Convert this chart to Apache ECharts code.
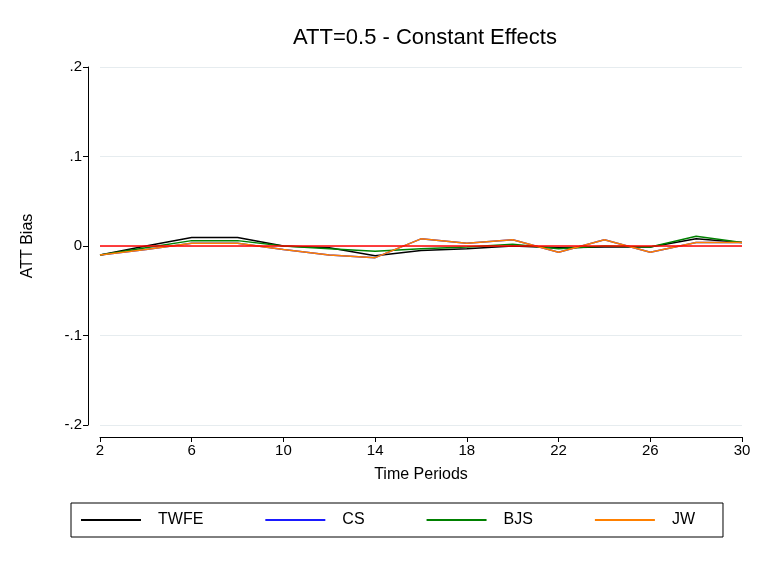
<!DOCTYPE html>
<html>
<head>
<meta charset="utf-8">
<script src="https://cdn.jsdelivr.net/npm/echarts@6/dist/echarts.min.js"></script>
<style>html,body{margin:0;padding:0;background:#fff}#chart{width:776px;height:564px}</style>
</head>
<body>
<div id="chart"></div>
<script>
var periods = [2, 4, 6, 8, 10, 12, 14, 16, 18, 20, 22, 24, 26, 28, 30];
var twfe = [-0.010, 0.000, 0.0095, 0.0095, 0.000, -0.002, -0.011, -0.005, -0.003, 0.000, -0.002, -0.001, -0.001, 0.008, 0.004];
var cs   = [-0.010, -0.004, 0.003, 0.003, -0.004, -0.010, -0.013, 0.008, 0.003, 0.007, -0.007, 0.007, -0.007, 0.004, 0.004];
var bjs  = [-0.010, -0.002, 0.006, 0.006, 0.000, -0.003, -0.006, -0.003, -0.001, 0.002, -0.003, 0.000, -0.001, 0.011, 0.004];
var jw   = [-0.010, -0.004, 0.003, 0.003, -0.004, -0.010, -0.013, 0.008, 0.003, 0.007, -0.007, 0.007, -0.007, 0.004, 0.004];
var yTicks = ['-.2', '-.1', '0', '.1', '.2'];

function pairs(v) {
    return periods.map(function (p, i) { return [p, v[i]]; });
}

window.onload = function () {
    var myChart = echarts.init(document.getElementById('chart'));
    var font = 'Liberation Sans, Arial, sans-serif';
    function line(name, color, vals, extra) {
        var s = {
            name: name, type: 'line', data: pairs(vals), symbol: 'none',
            lineStyle: { color: color, width: 1.5 }, itemStyle: { color: color },
            animation: false
        };
        if (extra) s.markLine = extra;
        return s;
    }
    var option = {
        backgroundColor: '#fff',
        title: {
            text: 'ATT=0.5 - Constant Effects', left: 420, top: 22, textAlign: 'center',
            textStyle: { fontFamily: font, fontWeight: 'normal', fontSize: 22, color: '#000' }
        },
        grid: { left: 100, right: 34, top: 67, bottom: 139 },
        legend: {
            bottom: 27, left: 'center', itemWidth: 60, itemGap: 62,
            borderColor: '#000', borderWidth: 1, padding: [9, 28, 9, 10],
            textStyle: { fontFamily: font, fontSize: 16, color: '#000', padding: [0, 0, 0, 12] },
            data: [
                { name: 'TWFE', icon: 'rect' }, { name: 'CS', icon: 'rect' },
                { name: 'BJS', icon: 'rect' }, { name: 'JW', icon: 'rect' }
            ],
            itemHeight: 2
        },
        xAxis: {
            type: 'value', min: 2, max: 30, interval: 4, offset: 12,
            name: 'Time Periods', nameLocation: 'middle', nameGap: 30,
            nameTextStyle: { fontFamily: font, fontSize: 16, color: '#000' },
            axisLine: { onZero: false, lineStyle: { color: '#000' } },
            axisTick: { length: 5, lineStyle: { color: '#000' } },
            axisLabel: { fontFamily: font, fontSize: 15, color: '#000', margin: 6 },
            splitLine: { show: false }
        },
        yAxis: {
            type: 'value', min: -0.2, max: 0.2, interval: 0.1, offset: 12,
            name: 'ATT Bias', nameLocation: 'middle', nameGap: 52,
            nameTextStyle: { fontFamily: font, fontSize: 16, color: '#000' },
            axisLine: { show: true, onZero: false, lineStyle: { color: '#000' } },
            axisTick: { show: true, length: 5, lineStyle: { color: '#000' } },
            axisLabel: {
                fontFamily: font, fontSize: 15, color: '#000', margin: 6,
                formatter: function (v) { return yTicks[Math.round(v * 10) + 2]; }
            },
            splitLine: { show: true, lineStyle: { color: '#e6ecef' } }
        },
        series: [
            line('TWFE', '#000000', twfe, {
                symbol: 'none', silent: true, label: { show: false },
                lineStyle: { color: '#ff0000', type: 'solid', width: 1.5 },
                data: [{ yAxis: 0 }]
            }),
            line('CS', '#1a1aff', cs),
            line('BJS', '#008000', bjs),
            line('JW', '#ff8000', jw)
        ]
    };
    myChart.setOption(option);
};
</script>
</body>
</html>
